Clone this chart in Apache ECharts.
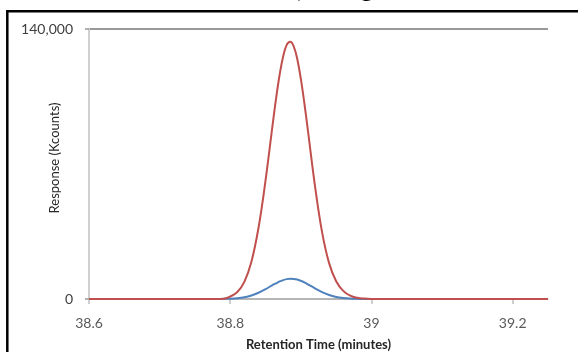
<!DOCTYPE html>
<html>
<head>
<meta charset="utf-8">
<script src="https://cdn.jsdelivr.net/npm/echarts@6/dist/echarts.min.js"></script>
<style>
  html, body { margin: 0; padding: 0; background: #ffffff; }
  #chart { width: 578px; height: 352px; }
</style>
</head>
<body>
<div id="chart"></div>
<script>
// Retention times (minutes) shared by both traces
const retentionTimes = [38.60, 38.70, 38.76, 38.78, 38.79, 38.80, 38.81, 38.82, 38.83, 38.84,
  38.85, 38.86, 38.865, 38.87, 38.875, 38.88, 38.885, 38.89, 38.895, 38.90,
  38.905, 38.91, 38.92, 38.93, 38.94, 38.95, 38.96, 38.97, 38.98, 38.99,
  39.00, 39.05, 39.10, 39.20, 39.25];

// Large peak (red trace)
const redResponse = [0, 0, 0, 0, 100, 1300, 3600, 8900, 19300, 36800,
  61500, 90300, 104200, 116400, 125900, 131800, 133400, 130900, 124300, 114100,
  101500, 87400, 58700, 34800, 18600, 9200, 4200, 1700, 600, 200,
  50, 0, 0, 0, 0];

// Small peak (blue trace)
const blueResponse = [0, 0, 0, 0, 60, 170, 430, 940, 1840, 3250,
  5110, 7210, 8150, 9100, 9800, 10300, 10500, 10420, 10070, 9420,
  8650, 7620, 5530, 3580, 2080, 1080, 510, 210, 80, 30,
  0, 0, 0, 0, 0];

// Axis settings
const xMin = 38.6, xMax = 39.25, xStep = 0.2;
const yMin = 0, yMax = 140000, yStep = 140000;

const titleText = 'Peak Area, 10 ng';
const xTitle = 'Retention Time (minutes)';
const yTitle = 'Response (Kcounts)';

const pairs = (ys) => retentionTimes.map((t, i) => [t, ys[i]]);

const chart = echarts.init(document.getElementById('chart'), null, { renderer: 'canvas' });

chart.setOption({
  animation: false,
  backgroundColor: '#ffffff',
  grid: { left: 89, right: 30, top: 29, bottom: 53, containLabel: false, outerBoundsMode: 'none' },
  xAxis: {
    type: 'value',
    min: xMin, max: xMax, interval: xStep,
    name: xTitle,
    nameLocation: 'middle',
    nameGap: 39,
    nameMoveOverlap: false,
    nameTextStyle: { fontFamily: 'Lato', fontSize: 13, fontWeight: 'bold', color: '#262626' },
    axisLine: { show: true, onZero: false, lineStyle: { color: '#bfbfbf', width: 1.5 } },
    axisTick: { show: true, length: 5, lineStyle: { color: '#bfbfbf', width: 1.5 } },
    axisLabel: {
      showMaxLabel: false, margin: 17,
      fontFamily: 'Lato', fontSize: 14, color: '#595959'
    },
    splitLine: { show: false }
  },
  yAxis: {
    type: 'value',
    min: yMin, max: yMax, interval: yStep,
    name: yTitle,
    nameLocation: 'middle',
    nameGap: 28,
    nameMoveOverlap: false,
    nameTextStyle: { fontFamily: 'Lato', fontSize: 13, color: '#262626', padding: [0, 0, 0, 12] },
    axisLine: { show: true, lineStyle: { color: '#d0d0d0', width: 2 } },
    axisTick: { show: true, length: 4, lineStyle: { color: '#999999', width: 1.5 } },
    axisLabel: {
      margin: 16,
      fontFamily: 'Lato', fontSize: 14, color: '#404040',
      formatter: (v) => v.toLocaleString('en-US')
    },
    splitLine: { show: true, lineStyle: { color: '#999999', width: 2 } }
  },
  series: [
    {
      name: 'blue', type: 'line', data: pairs(blueResponse),
      smooth: 0.4, showSymbol: false,
      lineStyle: { color: '#4F81BD', width: 2 }, itemStyle: { color: '#4F81BD' }
    },
    {
      name: 'red', type: 'line', data: pairs(redResponse),
      smooth: 0.4, showSymbol: false,
      lineStyle: { color: '#C0504D', width: 2 }, itemStyle: { color: '#C0504D' }
    }
  ],
  graphic: [
    {
      type: 'rect', silent: true,
      shape: { x: 7.3, y: 11.2, width: 800, height: 600 },
      style: { fill: 'none', stroke: '#000000', lineWidth: 2.5 }
    },
    {
      type: 'text', silent: true,
      x: 374, y: 2,
      style: {
        text: titleText, fill: '#000000',
        font: 'bold 26px Lato', align: 'right', verticalAlign: 'bottom'
      }
    }
  ]
});
</script>
</body>
</html>
